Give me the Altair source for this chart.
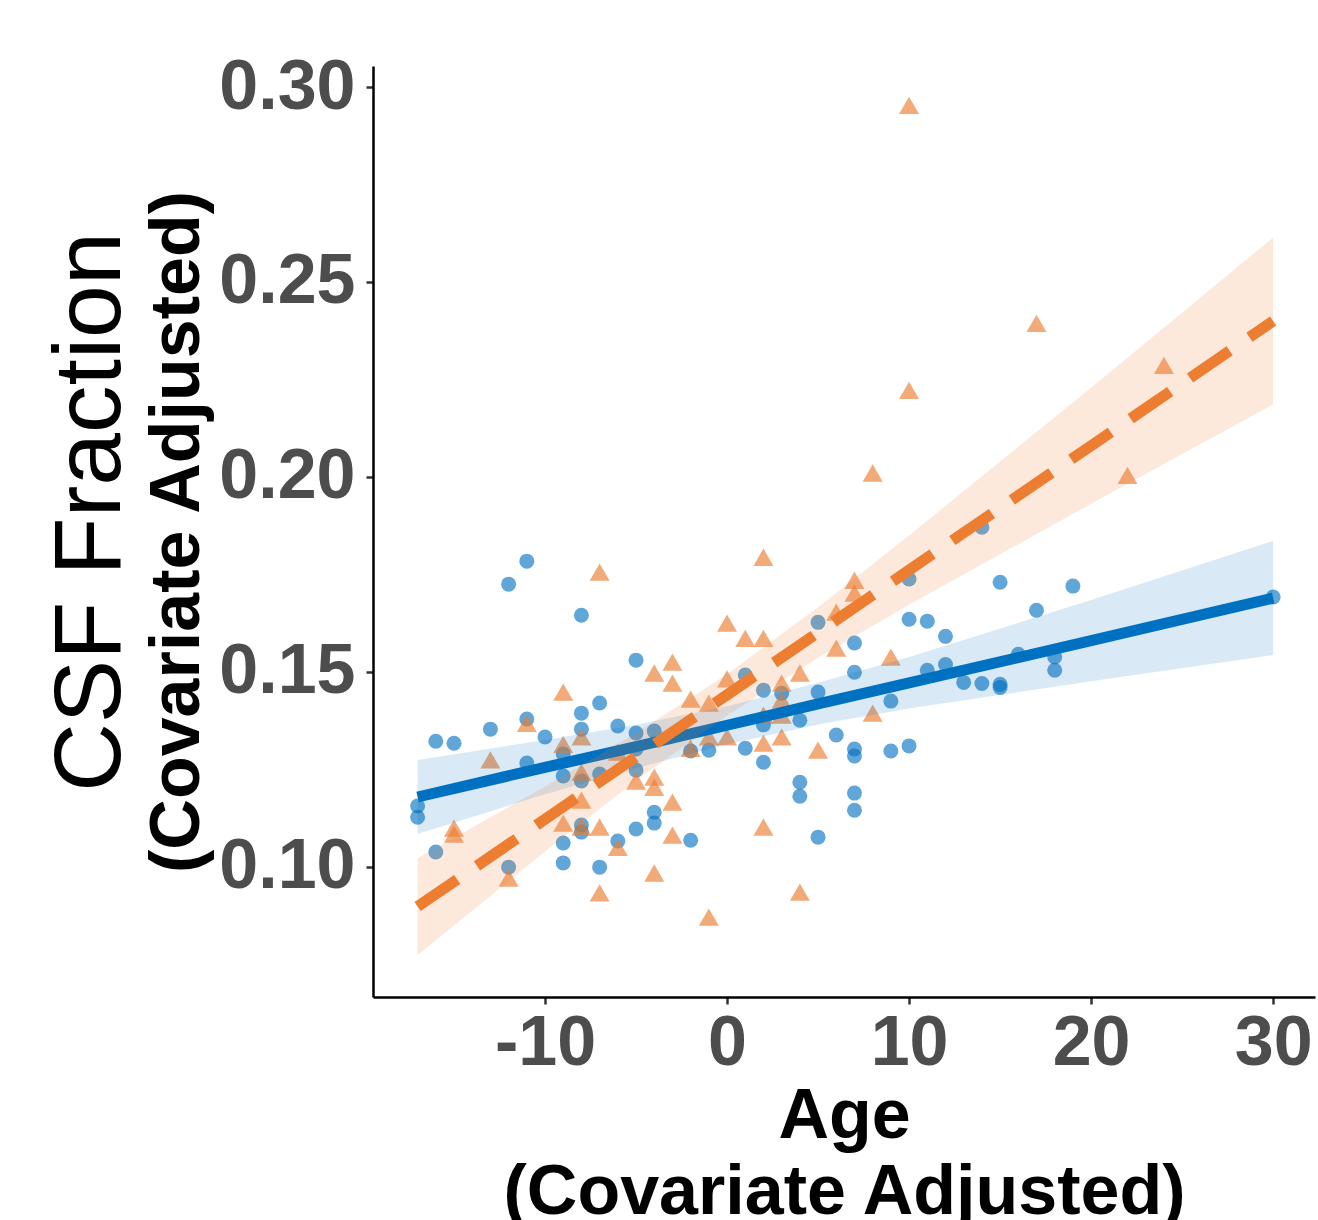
import altair as alt
import pandas as pd

# ---- scatter data ----
blue_x = [-17, -17, -16, -16, -15, -13, -12, -12, -11, -11, -11, -10, -9, -9, -9, -9,
          -8, -8, -8, -8, -8, -8, -7, -7, -7, -6, -6, -5, -5, -5, -5, -5, -4, -4, -4,
          -2, -2, -1, 1, 1, 2, 2, 2, 3, 4, 4, 4, 5, 5, 5, 6, 7, 7, 7, 7, 7, 7, 9, 9,
          10, 10, 10, 11, 11, 12, 12, 13, 14, 14, 15, 15, 15, 16, 17, 18, 18, 19, 30]
blue_y = [0.1156, 0.1127, 0.1322, 0.1038, 0.1317, 0.1353, 0.1725, 0.0999, 0.1784, 0.1379,
          0.1266, 0.1333, 0.1289, 0.1233, 0.1061, 0.1010, 0.1645, 0.1394, 0.1353, 0.1220,
          0.1107, 0.1089, 0.1420, 0.1238, 0.0999, 0.1361, 0.1066, 0.1530, 0.1343, 0.1302,
          0.1248, 0.1097, 0.1348, 0.1140, 0.1112, 0.1297, 0.1068, 0.1299, 0.1492, 0.1304,
          0.1453, 0.1364, 0.1268, 0.1445, 0.1376, 0.1217, 0.1181, 0.1627, 0.1448, 0.1076,
          0.1338, 0.1574, 0.1499, 0.1302, 0.1284, 0.1189, 0.1145, 0.1425, 0.1297, 0.1738,
          0.1635, 0.1310, 0.1630, 0.1504, 0.1591, 0.1519, 0.1473, 0.1871, 0.1470, 0.1730,
          0.1468, 0.1460, 0.1545, 0.1658, 0.1538, 0.1504, 0.1720, 0.1692]

orange_x = [-15, -15, -13, -12, -11, -9, -9, -9, -8, -8, -8, -8, -7, -7, -7, -6, -6, -5,
            -4, -4, -4, -4, -3, -3, -3, -3, -2, -2, -1, -1, -1, 0, 0, 0, 1, 2, 2, 2, 2, 2,
            3, 3, 3, 3, 4, 4, 5, 6, 6, 7, 7, 8, 8, 9, 10, 10, 17, 22, 24]
orange_y = [0.1099, 0.1084, 0.1274, 0.0971, 0.1368, 0.1448, 0.1314, 0.1112, 0.1333, 0.1243,
            0.1171, 0.1102, 0.1102, 0.0933, 0.1756, 0.1294, 0.1050, 0.1220, 0.1497, 0.1230,
            0.1204, 0.0984, 0.1525, 0.1471, 0.1166, 0.1081, 0.1430, 0.1304, 0.1333, 0.1420,
            0.0871, 0.1625, 0.1482, 0.1333, 0.1586, 0.1794, 0.1586, 0.1389, 0.1317, 0.1102,
            0.1471, 0.1428, 0.1389, 0.1333, 0.1497, 0.0935, 0.1299, 0.1653, 0.1561, 0.1735,
            0.1702, 0.2010, 0.1394, 0.1538, 0.2953, 0.2222, 0.2394, 0.2004, 0.2286]

# ---- fitted lines and confidence bands ----
fit_x = [-17, -10, -5, 0, 5, 10, 20, 30]
blue_fit = [0.1179, 0.1255, 0.1308, 0.1363, 0.1418, 0.1472, 0.1580, 0.1689]
blue_lo = [0.1084, 0.1186, 0.1253, 0.1314, 0.1365, 0.1406, 0.1476, 0.1543]
blue_hi = [0.1274, 0.1325, 0.1364, 0.1412, 0.1472, 0.1538, 0.1684, 0.1836]
orange_fit = [0.0898, 0.1122, 0.1282, 0.1441, 0.1601, 0.1761, 0.2080, 0.2400]
orange_lo = [0.0774, 0.1039, 0.1221, 0.1388, 0.1536, 0.1672, 0.1931, 0.2186]
orange_hi = [0.1022, 0.1206, 0.1343, 0.1494, 0.1666, 0.1850, 0.2229, 0.2614]

x_ticks = [-10, 0, 10, 20, 30]
y_ticks = [0.10, 0.15, 0.20, 0.25, 0.30]

BLUE = "#0070C0"
ORANGE = "#ED7D31"
FONT = "Liberation Sans"

blue_df = pd.DataFrame({"x": blue_x, "y": blue_y})
orange_df = pd.DataFrame({"x": orange_x, "y": orange_y})
fit_df = pd.DataFrame({"x": fit_x, "bf": blue_fit, "blo": blue_lo, "bhi": blue_hi,
                       "of": orange_fit, "olo": orange_lo, "ohi": orange_hi})

xscale = alt.Scale(domain=[-19.45, 32.3], nice=False, zero=False)
yscale = alt.Scale(domain=[0.0666, 0.3054], nice=False, zero=False)

X = alt.X("x:Q", scale=xscale,
          axis=alt.Axis(values=x_ticks, labelExpr="'' + datum.value",
                        title=["Age", "(Covariate Adjusted)"]))
Y = alt.Y("y:Q", scale=yscale,
          axis=alt.Axis(values=y_ticks, format=".2f", title=None))

circles = alt.Chart(blue_df).mark_point(
    shape="circle", filled=True, size=225, color=BLUE, opacity=0.62
).encode(x=X, y=Y)

triangles = alt.Chart(orange_df).mark_point(
    shape="triangle-up", filled=True, size=400, color=ORANGE, opacity=0.65
).encode(x=X, y=Y)

base = alt.Chart(fit_df)
blue_band = base.mark_area(color=BLUE, opacity=0.15).encode(
    x=alt.X("x:Q", scale=xscale), y=alt.Y("blo:Q", scale=yscale), y2="bhi:Q")
blue_line = base.mark_line(color=BLUE, strokeWidth=11).encode(
    x=alt.X("x:Q", scale=xscale), y=alt.Y("bf:Q", scale=yscale))
orange_band = base.mark_area(color=ORANGE, opacity=0.17).encode(
    x=alt.X("x:Q", scale=xscale), y=alt.Y("olo:Q", scale=yscale), y2="ohi:Q")
orange_line = base.mark_line(color=ORANGE, strokeWidth=11, strokeDash=[48, 24]).encode(
    x=alt.X("x:Q", scale=xscale), y=alt.Y("of:Q", scale=yscale))

title1 = alt.Chart(pd.DataFrame({"t": ["CSF Fraction"]})).mark_text(
    angle=270, font=FONT, fontSize=95, align="center", baseline="alphabetic", color="black"
).encode(x=alt.value(-253), y=alt.value(446), text="t:N")
title2 = alt.Chart(pd.DataFrame({"t": ["(Covariate Adjusted)"]})).mark_text(
    angle=270, font=FONT, fontSize=70, fontWeight="bold", align="center",
    baseline="alphabetic", color="black"
).encode(x=alt.value(-174), y=alt.value(466), text="t:N")

chart = alt.layer(
    circles, triangles, blue_band, blue_line, orange_band, orange_line, title1, title2
).properties(
    width=942, height=931,
    autosize=alt.AutoSizeParams(type="none"),
    padding={"left": 373, "top": 66, "right": 3, "bottom": 223},
).configure_view(stroke=None).configure_axis(
    grid=False,
    domainColor="black", domainWidth=2.5,
    tickColor="#333333", tickWidth=2.5, tickSize=7,
    labelFont=FONT, labelFontSize=70, labelFontWeight="bold", labelColor="#4D4D4D",
    titleFont=FONT, titleFontSize=70, titleFontWeight="bold", titleColor="black",
).configure_axisY(labelPadding=11).configure_axisX(
    labelPadding=5, titlePadding=4, titleLineHeight=76
)

chart.save("out.html", embed_options={"renderer": "svg", "actions": False})
